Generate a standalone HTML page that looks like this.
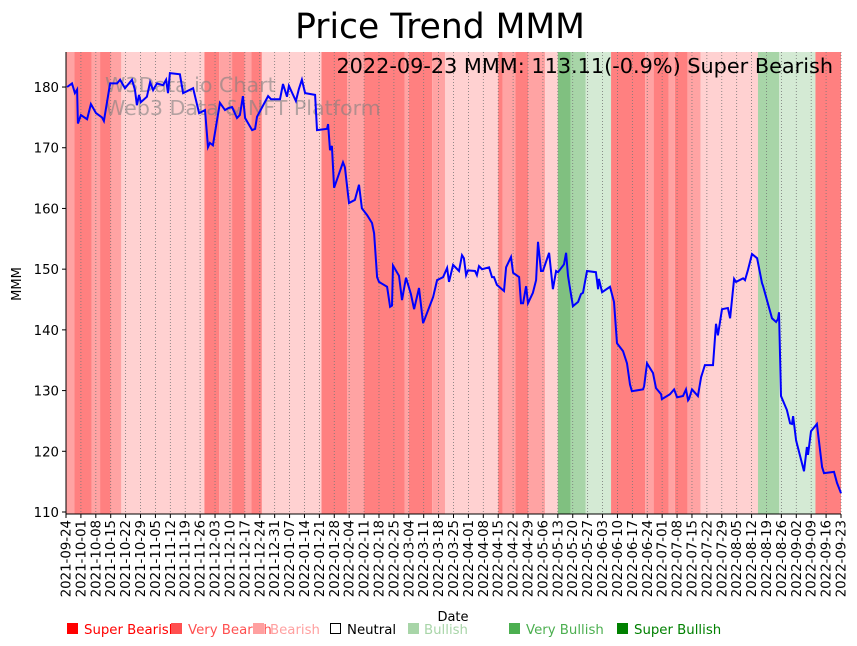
<!DOCTYPE html>
<html><head><meta charset="utf-8"><style>
body{margin:0;background:#fff;}
svg{display:block;font-family:"DejaVu Sans","Liberation Sans",sans-serif;}
</style></head><body>
<svg id="chart" width="857" height="646" viewBox="0 0 857 646" xmlns="http://www.w3.org/2000/svg">
<text x="440" y="38" font-size="34.5" text-anchor="middle" fill="#000">Price Trend MMM</text>
<g id="bands"></g>
<g id="grid"></g>
<g fill="rgba(128,128,128,0.6)" font-size="20.6">
<text x="105" y="92">W3Data.io Chart</text>
<text x="105" y="115">Web3 Data &amp; NFT Platform</text>
</g>
<path id="line" fill="none" stroke="#0000ff" stroke-width="2"/>
<text x="833" y="73" font-size="20.8" text-anchor="end" fill="#000">2022-09-23 MMM: 113.11(-0.9%) Super Bearish</text>
<line x1="66" y1="52" x2="66" y2="514" stroke="#000" stroke-width="1"/>
<line x1="66" y1="514" x2="841" y2="514" stroke="#000" stroke-width="1"/>
<g id="yticks"></g>
<g id="xticks"></g>
<text transform="translate(21,284) rotate(-90)" font-size="13" text-anchor="middle">MMM</text>
<text x="453" y="621" font-size="13" text-anchor="middle">Date</text>
<g font-size="13.3">
<g><rect x="67" y="623" width="11" height="11" fill="#ff0000"/><text x="84" y="634" fill="#ff0000">Super Bearish</text></g>
<g><rect x="171" y="623" width="11" height="11" fill="#ff5050"/><text x="188" y="634" fill="#ff5050">Very Bearish</text></g>
<g><rect x="253" y="623" width="11" height="11" fill="#ffa0a0"/><text x="270" y="634" fill="#ffa0a0">Bearish</text></g>
<g><rect x="330.5" y="623.5" width="10" height="10" fill="none" stroke="#000"/><text x="347" y="634" fill="#000">Neutral</text></g>
<g><rect x="408" y="623" width="11" height="11" fill="#a8d5a8"/><text x="424" y="634" fill="#a8d5a8">Bullish</text></g>
<g><rect x="509" y="623" width="11" height="11" fill="#4caf50"/><text x="526" y="634" fill="#4caf50">Very Bullish</text></g>
<g><rect x="617" y="623" width="11" height="11" fill="#008000"/><text x="634" y="634" fill="#008000">Super Bullish</text></g>
</g>
</svg>
<script>
const days=[0.5,2.8,4.2,5.2,5.6,7,9.9,11.7,14.1,16.9,17.8,20.7,24,25.4,27.7,31,32.4,33.3,34.3,35.2,38,39.5,40.9,42.7,45.6,47,47.9,48.8,53.5,55,59.7,62.5,65.3,66.7,67.6,69,72.3,74.7,76.1,78,80.3,81.7,83.1,84.1,87.4,88.8,89.7,94.9,96.3,100.5,101.9,103.8,104.7,108,109.4,110.8,112.3,117,117.9,122.6,123.1,124,124.9,125.9,130.1,131,132.9,135.7,137.6,139,141.4,143.7,144.7,146.1,147,150.8,152.2,153.1,153.6,156.4,157.8,159.7,162,163.5,165.8,167.7,172.4,174.3,177.1,179,179.9,181.8,184.6,186,186.9,187.9,188.8,192.1,193,194,195.4,198.7,200.1,201,202.4,205.7,206.7,209,210,212.8,213.7,214.7,216.1,217,219.3,220.8,221.7,223.1,224,226.9,228.7,230.2,231.1,233.9,234.9,235.8,238.1,240.5,241.9,242.8,244.7,248.9,249.9,250.3,251.8,255.5,257.4,258.8,261.6,263.5,264.9,265.8,271,271.5,272.9,275.7,277.1,279.5,279.9,283.7,285.6,287,289.8,291.2,292.2,292.6,294,296.8,298.3,300.1,303.9,305.3,306.2,308.1,310.9,311.9,313.8,314.7,318,318.9,320.3,322.2,324.6,326.9,327.4,331.6,333.5,334.4,334.9,335.8,338.6,340.1,341,341.5,342.9,346.6,348,348.5,349.9,352.7,355.1,356,360.7,362.1,364];
const prices=[180,180.6,179,179.6,174,175.4,174.7,177.2,175.7,175,174.4,180.6,180.6,181.2,179.8,181.2,179.5,177,178.7,177.5,178.4,180.8,179.5,180.6,180.3,181.2,179,182.3,182.1,179,179.8,175.7,176.2,170.1,170.8,170.4,177.4,176.2,176.5,176.7,174.9,175.4,178.5,174.9,172.9,173.1,175.1,178.5,178,178,180.5,178.4,180.2,177.7,179.7,181.2,179,178.7,172.9,173.1,173.9,169.6,170.3,163.4,167.6,166.8,160.9,161.4,163.9,160,158.9,157.6,155.9,148.7,147.9,147.1,143.8,144,150.6,148.9,144.9,148.6,145.9,143.4,146.9,141.1,145.4,148.2,148.7,150.2,147.9,150.7,149.7,152.3,151.8,149,149.8,149.7,149,150.5,150,150.3,148.7,148.7,147.4,146.4,150.3,152,149.4,148.7,144.4,144.4,147.2,144.4,146.1,148.2,154.5,149.7,149.7,152.7,146.7,149.7,149.5,150.8,152.7,148.9,143.9,144.6,145.9,146.1,149.7,149.5,146.7,148.4,146.2,147.1,144.6,137.8,136.5,134.5,131,129.9,130.2,130.7,134.5,132.9,130.4,129.4,128.6,129.4,130.2,128.9,129.1,130.2,128.4,128.6,130.2,129.1,132.2,134.2,134.2,141,139.1,143.4,143.6,141.9,148.4,147.9,148.5,148.2,149.9,152.5,151.8,147.7,147.2,141.9,141.3,141.8,142.9,129.1,126.8,124.6,124.5,125.8,121.8,116.7,120.7,119.4,123.3,124.5,117.4,116.4,116.6,114.8,113.1];
const bandStart=[0,4,12,16,21,26,65,72,78,84,87,92,120,132,140,159,161,172,178,203,205,211,217,225,231,237,244,256,272,276,283,286,292,298,325,335,352];
const bandEnd=[4,12,16,21,26,65,72,78,84,87,92,120,132,140,159,161,172,178,203,205,211,217,225,231,237,244,256,272,276,283,286,292,298,325,335,352,365];
const bandLevel=[-2,-3,-2,-3,-2,-1,-3,-2,-3,-2,-3,-1,-3,-2,-3,-2,-3,-2,-1,-3,-2,-3,-2,-1,3,2,1,-3,-2,-3,-2,-3,-2,-1,2,1,-3];
const yTicks=[110,120,130,140,150,160,170,180];

const X0=66,X1=841,Y0=52,Y1=514,DMAX=364,VMAX=185.77,VMIN=109.67;
const xs=d=>X0+(X1-X0)*d/DMAX;
const ys=v=>Y1-(Y1-Y0)*(v-VMIN)/(VMAX-VMIN);
const NS='http://www.w3.org/2000/svg';
const colors={'-3':'#ff8080','-2':'#ffa3a3','-1':'#ffd1d1','1':'#d4ead4','2':'#a8d5a8','3':'#80c080'};
function mk(tag,attrs,parent){const e=document.createElementNS(NS,tag);for(const k in attrs)e.setAttribute(k,attrs[k]);parent.appendChild(e);return e;}
const bands=document.getElementById('bands');
for(let i=0;i<bandStart.length;i++){
 const a=Math.max(X0,xs(bandStart[i])),b=Math.min(X1,xs(bandEnd[i]));
 const r=mk('rect',{x:a,y:Y0,width:b-a,height:Y1-Y0,fill:colors[bandLevel[i]]},bands);
 
 
}
const grid=document.getElementById('grid'),xt=document.getElementById('xticks');
const start=Date.UTC(2021,8,24);
for(let d=0;d<=364;d+=7){
 const x=xs(d);
 const g=mk('line',{x1:x,y1:Y0,x2:x,y2:Y1,stroke:'#777','stroke-width':0.8,'stroke-dasharray':'1,2'},grid);
 
 
 mk('line',{x1:x,y1:Y1,x2:x,y2:Y1+4,stroke:'#000'},xt);
 const dt=new Date(start+d*86400000);
 const s=dt.toISOString().slice(0,10);
 const t=mk('text',{transform:`translate(${x+4.5},${Y1+6}) rotate(-90)`,'font-size':13.3,'text-anchor':'end'},xt);
 t.textContent=s;
 
 
}
const yt=document.getElementById('yticks');
yTicks.forEach(v=>{const y=ys(v);
 mk('line',{x1:X0-4,y1:y,x2:X0,y2:y,stroke:'#000'},yt);
 const t=mk('text',{x:X0-7,y:y+5,'font-size':13.3,'text-anchor':'end'},yt);
 t.textContent=v;
 
 
});
document.getElementById('line').setAttribute('d',days.map((d,i)=>(i?'L':'M')+xs(d).toFixed(1)+','+ys(prices[i]).toFixed(1)).join(''));
</script>
</body></html>
